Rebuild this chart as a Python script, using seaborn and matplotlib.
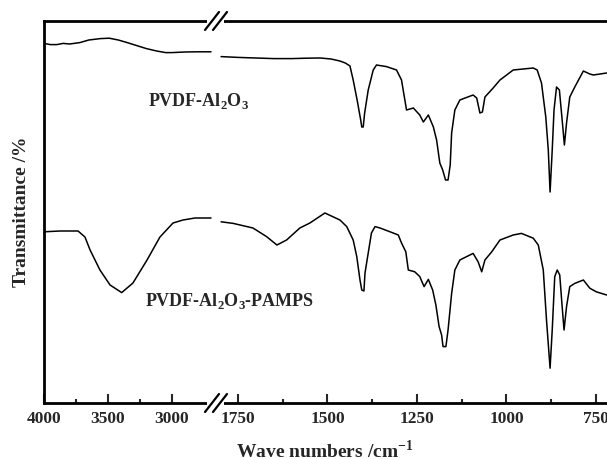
import numpy as np
import pandas as pd
import matplotlib
matplotlib.use("Agg")
import matplotlib.pyplot as plt
from matplotlib.lines import Line2D
import seaborn as sns

# -------------------------------
# DATA
# wavenumber in cm-1, transmittance in arbitrary %
# -------------------------------
# PVDF-Al2O3, high wavenumber part
top_hi_wn = [4000, 3950, 3900, 3850, 3800, 3720, 3650, 3560, 3490, 3420, 3350,
             3280, 3200, 3120, 3050, 3000, 2900, 2800, 2695]
top_hi_t = [89.9, 89.6, 89.6, 89.9, 89.75, 90.1, 90.75, 91.1, 91.2, 90.75, 90.1,
            89.4, 88.6, 88.0, 87.6, 87.6, 87.75, 87.8, 87.8]

# PVDF-Al2O3, fingerprint part
top_lo_wn = [1797, 1750, 1700, 1650, 1600, 1560, 1520, 1490, 1465, 1450, 1437, 1428,
             1417, 1407, 1404, 1400, 1396, 1386, 1372, 1363, 1335, 1307, 1293, 1279,
             1260, 1242, 1232, 1218, 1204, 1195, 1186, 1178, 1170, 1163, 1157, 1153,
             1144, 1130, 1093, 1083, 1074, 1067, 1060, 1037, 1018, 981, 925, 914,
             902, 890, 883, 878, 872, 867, 860, 852, 845, 838, 832, 823, 809, 785,
             767, 757, 720]
top_lo_t = [86.6, 86.4, 86.25, 86.1, 86.1, 86.2, 86.25, 86.0, 85.5, 85.0, 84.25, 80.75,
            75.75, 70.75, 69.0, 69.0, 72.5, 78.25, 83.25, 84.5, 84.1, 83.25, 80.75, 73.25,
            73.75, 72.0, 70.25, 72.0, 69.0, 65.75, 60.0, 58.25, 55.75, 55.75, 59.5, 67.5,
            73.25, 75.75, 77.0, 76.25, 72.5, 72.75, 76.5, 78.75, 80.75, 83.25, 83.75, 83.25,
            80.0, 71.5, 63.25, 52.75, 63.25, 73.25, 79.0, 78.25, 71.5, 64.5, 70.0, 76.5, 79.0, 83.0,
            82.25, 82.0, 82.5]

# PVDF-Al2O3-PAMPS, high wavenumber part
bot_hi_wn = [4000, 3875, 3734, 3680, 3640, 3563, 3484, 3393, 3305, 3195, 3094,
             2992, 2914, 2820, 2695]
bot_hi_t = [42.8, 43.0, 43.0, 41.5, 38.25, 33.25, 29.5, 27.6, 30.0, 35.75, 41.5,
            45.0, 45.75, 46.25, 46.25]

# PVDF-Al2O3-PAMPS, fingerprint part
bot_lo_wn = [1797, 1763, 1708, 1670, 1641, 1614, 1577, 1549, 1507, 1465, 1446, 1428,
             1418, 1409, 1404, 1398, 1395, 1386, 1377, 1367, 1353, 1325, 1302, 1293,
             1281, 1274, 1256, 1242, 1230, 1218, 1206, 1197, 1188, 1181, 1177, 1169,
             1163, 1153, 1144, 1130, 1111, 1093, 1079, 1069, 1060, 1041, 1018, 981,
             958, 925, 911, 897, 888, 878, 872, 865, 858, 851, 845, 839, 832, 823,
             809, 785, 767, 749, 720]
bot_lo_t = [45.3, 44.9, 43.75, 41.6, 39.5, 40.75, 43.75, 45.0, 47.5, 45.75, 44.1, 40.75,
            36.6, 30.75, 28.25, 28.0, 32.5, 37.5, 42.5, 44.1, 43.75, 42.8, 42.0, 40.0,
            37.8, 33.25, 32.8, 31.6, 29.1, 30.9, 28.25, 24.5, 19.1, 17.0, 14.1, 14.1,
            18.25, 27.4, 33.25, 35.75, 36.6, 37.4, 35.3, 32.8, 35.75, 37.8, 40.75, 42.0,
            42.4, 41.2, 39.5, 33.25, 20.75, 8.7, 18.25, 31.6, 33.25, 32.0, 24.9, 18.25,
            24.1, 29.1, 29.9, 30.75, 28.7, 27.8, 27.0]

samples = ["PVDF-Al2O3", "PVDF-Al2O3-PAMPS"]

hi_df = pd.concat([
    pd.DataFrame({"wn": top_hi_wn, "T": top_hi_t, "sample": samples[0]}),
    pd.DataFrame({"wn": bot_hi_wn, "T": bot_hi_t, "sample": samples[1]}),
])
lo_df = pd.concat([
    pd.DataFrame({"wn": top_lo_wn, "T": top_lo_t, "sample": samples[0]}),
    pd.DataFrame({"wn": bot_lo_wn, "T": bot_lo_t, "sample": samples[1]}),
])

# -------------------------------
# STYLE
# -------------------------------
sns.set_theme(style="white")
plt.rcParams["font.family"] = ["Liberation Serif", "DejaVu Serif"]
plt.rcParams["font.weight"] = "bold"
plt.rcParams["mathtext.fontset"] = "custom"
plt.rcParams["mathtext.rm"] = "Liberation Serif:bold"
plt.rcParams["mathtext.bf"] = "Liberation Serif:bold"
plt.rcParams["axes.linewidth"] = 2.0
plt.rcParams["axes.edgecolor"] = "black"

W, H = 607, 459
fig = plt.figure(figsize=(W / 100, H / 100), dpi=100)

x0, xb, x1 = 44, 215, 607   # px: left spine, break, right edge
ytop, ybot = 21, 403
B = (H - ybot) / H
HH = (ybot - ytop) / H

ax1 = fig.add_axes([x0 / W, B, (xb - x0) / W, HH])
ax2 = fig.add_axes([xb / W, B, (x1 - xb) / W, HH])

pal = {samples[0]: "black", samples[1]: "black"}
sns.lineplot(data=hi_df, x="wn", y="T", hue="sample", palette=pal, estimator=None,
             legend=False, linewidth=1.1, ax=ax1)
sns.lineplot(data=lo_df, x="wn", y="T", hue="sample", palette=pal, estimator=None,
             legend=False, linewidth=1.1, ax=ax2)

ax1.set_xlim(4000, 2664)
ax2.set_xlim(1814, 719)
for ax in (ax1, ax2):
    ax.set_ylim(0, 95.5)
    ax.set_yticks([])
    ax.set_xlabel("")
    ax.tick_params(axis="x", which="major", direction="in", length=6.5, width=1.5,
                   labelsize=12.5, pad=6, top=False, bottom=True)
    ax.tick_params(axis="x", which="minor", direction="in", length=3, width=1.5,
                   top=False, bottom=True)

ax1.set_xticks([4000, 3500, 3000])
ax1.set_xticks([3750, 3250], minor=True)
ax2.set_xticks([1750, 1500, 1250, 1000, 750])
ax2.set_xticks([1625, 1375, 1125, 875], minor=True)

ax1.spines["right"].set_visible(False)
ax2.spines["left"].set_visible(False)
ax2.spines["right"].set_visible(False)

ax1.set_ylabel("Transmittance /%", fontsize=14, fontweight="bold", labelpad=10)
ax2.set_ylabel("")

fig.text(325 / W, 1 - 451 / H, r"Wave numbers /cm$^{\mathregular{-1}}$",
         ha="center", va="center", fontsize=14, fontweight="bold")

fig.text(148 / W, 1 - 101 / H, r"PVDF-Al$_{\mathregular{2}}$O$_{\mathregular{3}}$",
         ha="left", va="center", fontsize=13, fontweight="bold")
fig.text(145 / W, 1 - 301 / H, r"PVDF-Al$_{\mathregular{2}}$O$_{\mathregular{3}}$-PAMPS",
         ha="left", va="center", fontsize=13, fontweight="bold")

# axis break marks //
def px(x, y):
    return x / W, 1 - y / H

for yc in (ytop, ybot):
    (a, b), (c, d) = px(207, yc), px(224, yc)
    fig.add_artist(Line2D([a, c], [b, d], color="white", lw=4, solid_capstyle="butt"))
    for dx in (0, 8):
        (a, b), (c, d) = px(205 + dx, yc + 9), px(219 + dx, yc - 9)
        fig.add_artist(Line2D([a, c], [b, d], color="black", lw=1.6))

fig.savefig("out.png", dpi=100)
